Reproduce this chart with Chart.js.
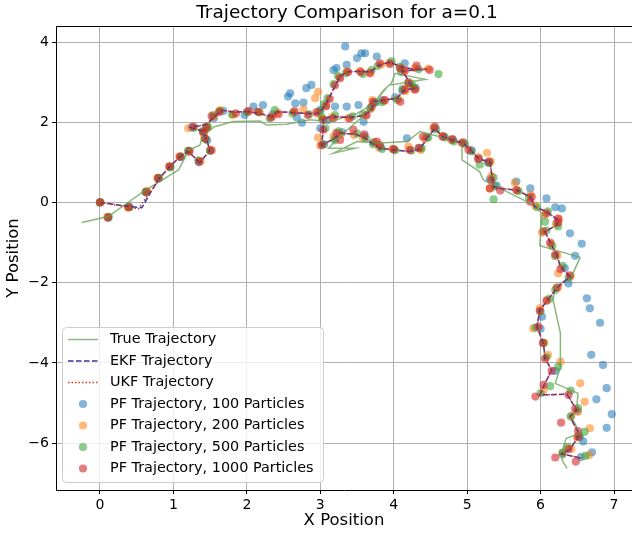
<!DOCTYPE html>
<html lang="en">
<head>
<meta charset="utf-8" />
<script src="https://cdn.jsdelivr.net/npm/chart.js@4.4.1/dist/chart.umd.min.js"></script>
<style>
  html, body { margin: 0; padding: 0; background: #fff; }
  canvas { display: block; }
</style>
<title>Trajectory Comparison</title>
</head>
<body>
<canvas id="traj" width="632" height="534"></canvas>
<script>
// true path
const trueX = [-0.25, 0.11, 0.6, 1.07, 1.17, 1.2, 1.36, 1.4, 1.56, 1.81, 2.18, 2.27, 2.54, 2.86, 3.13, 3.5, 3.72, 3.86, 3.97, 4.02, 4.43, 3.93, 3.74, 3.55, 3.3, 3.11, 3.47, 3.18, 3.5, 3.81, 4.18, 4.36, 4.63, 4.93, 4.93, 5.17, 5.22, 5.45, 5.86, 6.02, 5.99, 6.54, 6.42, 6.2, 6.17, 6.27, 6.27, 6.2, 6.51, 6.49, 6.42, 6.54, 6.35, 6.31, 6.29, 6.36];
const trueY = [-0.5, -0.35, 0.28, 0.81, 1.16, 1.3, 1.43, 1.66, 1.89, 2.02, 2.03, 1.93, 1.95, 2.06, 2.01, 2.22, 2.45, 2.8, 2.98, 3.22, 3.07, 2.92, 2.5, 2.1, 1.7, 1.35, 1.35, 1.23, 1.52, 1.48, 1.52, 1.77, 1.64, 1.48, 1.06, 0.77, 0.56, 0.35, -0.02, -0.27, -1.08, -1.37, -1.85, -2.1, -2.43, -3.26, -4.1, -4.51, -4.76, -5.17, -5.35, -5.76, -5.88, -6.09, -6.42, -6.63];

// EKF estimate
const ekfX = [0, 0.39, 0.57, 0.7, 0.82, 0.95, 1.09, 1.2, 1.36, 1.5, 1.45, 1.41, 1.24, 1.45, 1.55, 1.66, 1.83, 2.0, 2.17, 2.34, 2.41, 2.62, 2.8, 2.97, 3.06, 3.13, 3.2, 3.27, 3.36, 3.52, 3.68, 3.81, 3.95, 4.09, 4.27, 4.45, 4.12, 4.22, 4.27, 4.15, 4.04, 3.86, 3.72, 3.7, 3.6, 3.4, 3.18, 3.04, 3.04, 3.02, 3.18, 3.27, 3.48, 3.6, 3.7, 3.81, 4.0, 4.22, 4.36, 4.45, 4.56, 4.67, 4.8, 4.95, 5.05, 5.15, 5.31, 5.34, 5.36, 5.45, 5.67, 5.86, 5.92, 6.08, 6.24, 6.22, 6.06, 6.15, 6.22, 6.27, 6.4, 6.22, 6.1, 5.99, 5.95, 6.04, 6.06, 6.15, 6.04, 5.99, 6.36, 6.49, 6.4, 6.51, 6.51, 6.4, 6.29, 6.56];
const ekfY = [0, -0.1, -0.13, 0.28, 0.63, 0.89, 1.14, 1.27, 1.0, 1.3, 1.56, 1.77, 1.87, 1.95, 2.12, 2.3, 2.25, 2.27, 2.22, 2.14, 2.26, 2.24, 2.22, 2.22, 2.39, 2.64, 2.9, 3.14, 3.26, 3.27, 3.26, 3.43, 3.5, 3.39, 3.32, 3.32, 3.28, 2.97, 2.85, 2.8, 2.6, 2.55, 2.52, 2.32, 2.17, 2.12, 2.14, 2.1, 1.82, 1.43, 1.58, 1.73, 1.7, 1.62, 1.48, 1.35, 1.31, 1.27, 1.33, 1.6, 1.84, 1.64, 1.55, 1.48, 1.3, 1.1, 1.0, 0.65, 0.39, 0.35, 0.31, 0.14, -0.1, -0.23, -0.44, -0.56, -0.73, -1.06, -1.31, -1.6, -1.85, -2.14, -2.43, -2.68, -3.1, -3.51, -3.89, -4.18, -4.59, -4.8, -4.78, -5.17, -5.34, -5.72, -5.84, -6.17, -6.27, -6.38];

// UKF estimate
const ukfX = [0, 0.4, 0.52, 0.66, 0.82, 0.95, 1.09, 1.2, 1.36, 1.5, 1.45, 1.41, 1.24, 1.45, 1.55, 1.66, 1.83, 2.0, 2.17, 2.34, 2.41, 2.62, 2.8, 2.97, 3.06, 3.13, 3.2, 3.27, 3.36, 3.52, 3.68, 3.81, 3.95, 4.09, 4.27, 4.45, 4.12, 4.22, 4.27, 4.15, 4.04, 3.86, 3.72, 3.7, 3.6, 3.4, 3.18, 3.04, 3.04, 3.02, 3.18, 3.27, 3.48, 3.6, 3.7, 3.81, 4.0, 4.22, 4.36, 4.45, 4.56, 4.67, 4.8, 4.95, 5.05, 5.15, 5.31, 5.34, 5.36, 5.45, 5.67, 5.86, 5.92, 6.08, 6.24, 6.22, 6.06, 6.15, 6.22, 6.27, 6.4, 6.22, 6.1, 5.99, 5.95, 6.04, 6.06, 6.15, 6.04, 5.99, 6.36, 6.49, 6.4, 6.51, 6.51, 6.4, 6.29, 6.56];
const ukfY = [0, -0.12, -0.16, 0.2, 0.62, 0.89, 1.14, 1.27, 1.0, 1.3, 1.56, 1.77, 1.87, 1.95, 2.12, 2.3, 2.25, 2.27, 2.22, 2.14, 2.26, 2.24, 2.22, 2.22, 2.39, 2.64, 2.9, 3.14, 3.26, 3.27, 3.26, 3.43, 3.5, 3.39, 3.32, 3.32, 3.28, 2.97, 2.85, 2.8, 2.6, 2.55, 2.52, 2.32, 2.17, 2.12, 2.14, 2.1, 1.82, 1.43, 1.58, 1.73, 1.7, 1.62, 1.48, 1.35, 1.31, 1.27, 1.33, 1.6, 1.84, 1.64, 1.55, 1.48, 1.3, 1.1, 1.0, 0.65, 0.39, 0.35, 0.31, 0.14, -0.1, -0.23, -0.44, -0.56, -0.73, -1.06, -1.31, -1.6, -1.85, -2.14, -2.43, -2.68, -3.1, -3.51, -3.89, -4.18, -4.59, -4.8, -4.78, -5.17, -5.34, -5.72, -5.84, -6.17, -6.27, -6.38];

// particle filter estimates
const pf100X = [0, 0.11, 0.4, 0.63, 0.8, 0.95, 1.1, 1.21, 1.35, 1.5, 1.46, 1.4, 1.25, 1.45, 1.55, 1.68, 1.97, 2.09, 2.22, 2.35, 2.68, 2.75, 2.66, 2.77, 2.56, 2.59, 2.81, 2.88, 3.18, 3.22, 3.36, 3.5, 3.34, 3.56, 3.61, 3.77, 4.15, 4.2, 4.3, 4.12, 4.02, 3.85, 3.75, 3.52, 3.36, 3.2, 3.0, 3.1, 3.0, 3.05, 3.2, 3.3, 3.59, 3.6, 3.72, 3.82, 4.0, 4.18, 4.35, 4.45, 4.55, 4.68, 4.8, 4.95, 5.06, 5.16, 5.28, 5.31, 5.4, 5.67, 5.86, 6.08, 6.2, 6.29, 6.22, 6.4, 6.56, 6.47, 6.33, 6.38, 6.63, 6.67, 6.81, 6.02, 6.0, 6.69, 6.85, 6.2, 6.9, 6.76, 6.97, 6.5, 6.9, 6.58, 6.53, 6.7, 6.3, 6.55];
const pf100Y = [0, -0.39, -0.12, 0.25, 0.6, 0.88, 1.13, 1.28, 1.0, 1.3, 1.55, 1.76, 1.87, 1.9, 2.1, 2.28, 2.18, 2.39, 2.43, 2.2, 2.12, 1.99, 2.47, 2.49, 2.64, 2.72, 2.85, 2.93, 3.3, 3.35, 3.43, 3.6, 3.89, 3.72, 3.72, 3.64, 3.47, 3.0, 2.85, 2.78, 2.62, 2.55, 2.5, 2.43, 2.39, 2.39, 2.31, 2.05, 1.85, 1.45, 1.6, 1.75, 2.01, 1.65, 1.5, 1.38, 1.32, 1.6, 1.35, 1.62, 1.85, 1.65, 1.56, 1.5, 1.3, 1.1, 1.0, 0.58, 0.42, 0.52, 0.35, 0.1, -0.12, -0.15, -0.5, -0.77, -1.03, -1.33, -1.64, -2.02, -2.39, -2.64, -3.0, -2.85, -3.15, -3.8, -4.05, -4.2, -4.63, -4.91, -5.28, -5.2, -5.62, -5.96, -5.86, -6.23, -6.28, -6.35];

const pf200X = [0.01, 0.1, 0.38, 0.64, 0.78, 0.94, 1.08, 1.21, 1.37, 1.5, 1.42, 1.42, 1.2, 1.46, 1.55, 1.64, 1.81, 2.03, 2.18, 2.35, 2.42, 2.64, 2.77, 2.96, 3.08, 2.93, 2.97, 3.26, 3.36, 3.54, 3.67, 3.83, 3.94, 4.1, 4.29, 4.47, 4.14, 4.21, 4.28, 4.16, 4.06, 3.87, 3.71, 3.69, 3.62, 3.38, 3.16, 3.03, 2.97, 3.0, 3.18, 3.28, 3.46, 3.58, 3.74, 3.8, 3.98, 4.2, 4.37, 4.43, 4.54, 4.66, 4.78, 4.94, 5.15, 5.27, 5.32, 5.33, 5.31, 5.65, 5.68, 5.86, 5.93, 6.06, 6.25, 6.21, 6.02, 6.14, 6.23, 6.24, 6.41, 6.24, 6.09, 5.99, 5.9, 6.05, 6.1, 6.27, 6.54, 6.04, 6.6, 6.51, 6.42, 6.67, 6.5, 6.42, 6.3, 6.66];
const pf200Y = [0, -0.36, -0.13, 0.28, 0.61, 0.9, 1.15, 1.26, 1.03, 1.32, 1.6, 1.74, 1.85, 1.9, 2.14, 2.3, 2.18, 2.27, 2.24, 2.15, 2.24, 2.26, 2.32, 2.22, 2.42, 2.6, 2.76, 3.12, 3.27, 3.28, 3.24, 3.44, 3.48, 3.36, 3.35, 3.34, 3.3, 2.99, 2.83, 2.78, 2.58, 2.53, 2.55, 2.33, 2.16, 2.1, 2.12, 2.08, 1.62, 1.42, 1.64, 1.7, 1.68, 1.6, 1.5, 1.37, 1.33, 1.39, 1.31, 1.58, 1.86, 1.66, 1.56, 1.5, 1.13, 1.24, 1.02, 0.66, 0.35, 0.49, 0.3, 0.19, -0.08, -0.31, -0.42, -0.55, -0.75, -1.04, -1.32, -1.77, -1.84, -2.12, -2.44, -2.64, -3.14, -3.5, -3.8, -3.97, -4.51, -4.68, -4.97, -5.22, -5.32, -5.63, -5.86, -6.15, -6.25, -6.3];

const pf500X = [0, 0.12, 0.4, 0.62, 0.8, 0.96, 1.1, 1.2, 1.34, 1.5, 1.44, 1.4, 1.28, 1.47, 1.54, 1.63, 1.8, 2.0, 2.16, 2.31, 2.38, 2.62, 2.85, 3.0, 3.05, 3.1, 3.18, 3.24, 3.35, 3.58, 3.7, 3.78, 3.97, 4.08, 4.34, 4.61, 4.1, 4.24, 4.27, 4.12, 4.05, 3.84, 3.74, 3.68, 3.58, 3.44, 3.2, 3.02, 3.07, 3.04, 3.2, 3.25, 3.5, 3.62, 3.72, 3.84, 4.02, 4.24, 4.38, 4.47, 4.58, 4.7, 4.82, 4.97, 5.06, 5.17, 5.3, 5.36, 5.38, 5.36, 5.7, 5.84, 5.95, 6.1, 6.06, 6.24, 6.08, 6.16, 6.2, 6.3, 6.38, 6.2, 6.12, 6.0, 5.93, 6.04, 6.08, 6.24, 6.13, 6.0, 6.41, 6.51, 6.41, 6.6, 6.53, 6.37, 6.3, 6.61];
const pf500Y = [0, -0.36, -0.11, 0.26, 0.62, 0.88, 1.15, 1.29, 1.05, 1.28, 1.58, 1.78, 1.86, 1.88, 2.18, 2.28, 2.2, 2.25, 2.25, 2.1, 2.3, 2.22, 2.2, 2.28, 2.45, 2.6, 2.95, 3.16, 3.22, 3.2, 3.3, 3.4, 3.52, 3.38, 3.32, 3.2, 3.25, 2.95, 2.88, 2.83, 2.56, 2.5, 2.48, 2.35, 2.2, 2.15, 2.18, 2.12, 1.85, 1.45, 1.55, 1.77, 1.72, 1.6, 1.45, 1.33, 1.3, 1.29, 1.35, 1.62, 1.82, 1.62, 1.52, 1.45, 1.27, 0.94, 0.98, 0.62, 0.4, 0.08, 0.28, 0.12, -0.12, -0.22, -0.48, -0.6, -0.7, -1.08, -1.34, -1.58, -1.88, -2.18, -2.4, -2.72, -3.12, -3.51, -3.86, -4.1, -4.58, -4.76, -4.69, -5.13, -5.34, -5.72, -5.82, -6.1, -6.24, -6.32];

const pf1000X = [0, 0.11, 0.39, 0.63, 0.79, 0.95, 1.09, 1.22, 1.35, 1.52, 1.43, 1.41, 1.27, 1.45, 1.52, 1.62, 1.85, 2.02, 2.15, 2.33, 2.43, 2.65, 2.83, 2.95, 3.08, 3.13, 3.2, 3.27, 3.38, 3.55, 3.68, 3.81, 3.95, 4.09, 4.31, 4.49, 4.15, 4.2, 4.29, 4.15, 4.09, 3.88, 3.72, 3.7, 3.63, 3.4, 3.18, 3.04, 3.04, 3.02, 3.27, 3.22, 3.45, 3.6, 3.77, 3.81, 4.0, 4.22, 4.34, 4.4, 4.56, 4.67, 4.8, 4.93, 5.02, 5.15, 5.3, 5.33, 5.31, 5.45, 5.67, 5.88, 5.86, 6.08, 6.24, 6.24, 6.04, 6.13, 6.2, 6.27, 6.4, 6.22, 6.08, 5.99, 5.97, 6.03, 6.06, 6.15, 6.04, 5.93, 6.38, 6.47, 6.28, 6.51, 6.51, 6.38, 6.2, 6.48];
const pf1000Y = [0, -0.37, -0.12, 0.27, 0.6, 0.9, 1.14, 1.28, 1.02, 1.3, 1.6, 1.75, 1.89, 1.85, 2.15, 2.25, 2.22, 2.28, 2.26, 2.12, 2.2, 2.27, 2.18, 2.25, 2.4, 2.58, 2.92, 3.1, 3.25, 3.25, 3.22, 3.47, 3.45, 3.34, 3.41, 3.3, 3.28, 2.97, 2.81, 2.81, 2.51, 2.55, 2.51, 2.39, 2.18, 2.1, 2.1, 2.06, 1.81, 1.43, 1.56, 1.73, 1.81, 1.7, 1.52, 1.43, 1.33, 1.31, 1.36, 1.64, 1.89, 1.64, 1.58, 1.48, 1.31, 1.08, 1.02, 0.55, 0.35, 0.3, 0.31, 0.14, 0.02, -0.27, -0.4, -0.5, -0.72, -1.0, -1.3, -1.66, -1.82, -2.12, -2.45, -2.7, -3.1, -3.5, -3.9, -4.2, -4.55, -4.84, -4.8, -5.15, -5.49, -5.7, -5.84, -6.15, -6.36, -6.46];

const xTicks = [0, 1, 2, 3, 4, 5, 6, 7];
const yTicks = [-6, -4, -2, 0, 2, 4];

const titleText = 'Trajectory Comparison for a=0.1';
const legendItems = [
  { label: 'True Trajectory', kind: 'line', color: 'rgba(100,160,80,0.75)', dash: [] },
  { label: 'EKF Trajectory', kind: 'line', color: '#2b3aa6', dash: [5.5, 2.5] },
  { label: 'UKF Trajectory', kind: 'line', color: '#f03020', dash: [1.5, 2] },
  { label: 'PF Trajectory, 100 Particles', kind: 'dot', color: 'rgba(31,119,180,0.55)' },
  { label: 'PF Trajectory, 200 Particles', kind: 'dot', color: 'rgba(255,127,14,0.55)' },
  { label: 'PF Trajectory, 500 Particles', kind: 'dot', color: 'rgba(44,160,44,0.55)' },
  { label: 'PF Trajectory, 1000 Particles', kind: 'dot', color: 'rgba(214,39,40,0.6)' }
];

const DOT_R = 4.1;
const pts = (xs, ys) => xs.map((x, i) => ({ x: x, y: ys[i] }));
const fmt = v => (v < 0 ? '\u2212' + Math.abs(v) : String(v));
const FONT = '"DejaVu Sans", sans-serif';
// only the listed tick values get a grid line
const gridCol = list => c => (c.tick && list.includes(c.tick.value) ? '#b0b0b0' : 'rgba(0,0,0,0)');
const tickCol = list => c => (c.tick && list.includes(c.tick.value) ? '#000' : 'rgba(0,0,0,0)');

function lineSet(label, xs, ys, item, order) {
  return {
    label: label, data: pts(xs, ys), showLine: true, pointRadius: 0,
    borderColor: item.color, borderWidth: 1.5, borderDash: item.dash,
    fill: false, order: order
  };
}
function dotSet(label, xs, ys, item, order) {
  return {
    label: label, data: pts(xs, ys), showLine: false, pointRadius: DOT_R,
    pointBackgroundColor: item.color, pointBorderWidth: 0, order: order
  };
}

// title, top spine and the in-plot legend
const decor = {
  id: 'decor',
  afterDraw(chart) {
    const { ctx, chartArea: a } = chart;
    ctx.save();
    ctx.strokeStyle = '#000';
    ctx.lineWidth = 1;
    ctx.beginPath();
    ctx.moveTo(a.left, a.top + 0.5);
    ctx.lineTo(a.right, a.top + 0.5);
    ctx.stroke();

    ctx.fillStyle = '#000';
    ctx.font = '18.5px ' + FONT;
    ctx.textAlign = 'center';
    ctx.textBaseline = 'middle';
    ctx.fillText(titleText, 347, 13);

    // legend box
    ctx.beginPath();
    ctx.roundRect(62.5, 327.5, 261, 155, 4);
    ctx.fillStyle = 'rgba(255,255,255,0.8)';
    ctx.fill();
    ctx.strokeStyle = '#cccccc';
    ctx.stroke();

    ctx.font = '14.4px ' + FONT;
    ctx.textAlign = 'left';
    legendItems.forEach((it, i) => {
      const y = 339.5 + i * 21.5;
      if (it.kind === 'line') {
        ctx.strokeStyle = it.color;
        ctx.lineWidth = 1.5;
        ctx.setLineDash(it.dash);
        ctx.beginPath();
        ctx.moveTo(68, y);
        ctx.lineTo(98, y);
        ctx.stroke();
        ctx.setLineDash([]);
      } else {
        ctx.fillStyle = it.color;
        ctx.beginPath();
        ctx.arc(83, y, DOT_R, 0, Math.PI * 2);
        ctx.fill();
      }
      ctx.fillStyle = '#000';
      ctx.fillText(it.label, 110, y);
    });
    ctx.restore();
  }
};

new Chart(document.getElementById('traj').getContext('2d'), {
  type: 'scatter',
  data: {
    datasets: [
      lineSet('UKF Trajectory', ukfX, ukfY, legendItems[2], 1),
      lineSet('EKF Trajectory', ekfX, ekfY, legendItems[1], 2),
      lineSet('True Trajectory', trueX, trueY, legendItems[0], 3),
      dotSet('PF Trajectory, 1000 Particles', pf1000X, pf1000Y, legendItems[6], 4),
      dotSet('PF Trajectory, 500 Particles', pf500X, pf500Y, legendItems[5], 5),
      dotSet('PF Trajectory, 200 Particles', pf200X, pf200Y, legendItems[4], 6),
      dotSet('PF Trajectory, 100 Particles', pf100X, pf100Y, legendItems[3], 7)
    ]
  },
  options: {
    responsive: false,
    animation: false,
    devicePixelRatio: 1,
    layout: { autoPadding: false, padding: { top: 26, left: 0, right: 0, bottom: 0 } },
    plugins: { legend: { display: false }, title: { display: false }, tooltip: { enabled: false } },
    scales: {
      x: {
        type: 'linear', min: -0.599, max: 7.245,
        afterBuildTicks: s => { s.ticks = xTicks.map(v => ({ value: v })); },
        afterFit: s => { s.height = 44; s.paddingLeft = 0; s.paddingRight = 0; },
        grid: { color: gridCol(xTicks), lineWidth: 1, tickColor: tickCol(xTicks), tickLength: 4 },
        border: { display: true, color: '#000', width: 1 },
        ticks: { color: '#000', font: { family: FONT, size: 14 }, padding: 3, maxRotation: 0, callback: fmt },
        title: { display: true, text: 'X Position', color: '#000', font: { family: FONT, size: 16.5 }, padding: { top: 0, bottom: 3 } }
      },
      y: {
        type: 'linear', min: -7.17, max: 4.4,
        afterBuildTicks: s => { s.ticks = yTicks.map(v => ({ value: v })); },
        afterFit: s => { s.width = 56; s.paddingTop = 0; s.paddingBottom = 0; },
        grid: { color: gridCol(yTicks), lineWidth: 1, tickColor: tickCol(yTicks), tickLength: 4 },
        border: { display: true, color: '#000', width: 1 },
        ticks: { color: '#000', font: { family: FONT, size: 14 }, padding: 3, callback: fmt },
        title: { display: true, text: 'Y Position', color: '#000', font: { family: FONT, size: 16.5 }, padding: { top: 4, bottom: 0 } }
      }
    }
  },
  plugins: [decor]
});
</script>
</body>
</html>
